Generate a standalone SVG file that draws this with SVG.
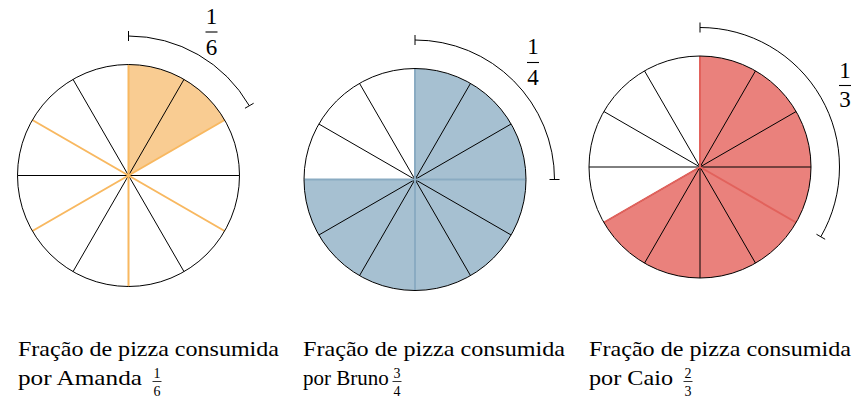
<svg xmlns="http://www.w3.org/2000/svg" width="860" height="407" viewBox="0 0 860 407">
<style>
  .bg{fill:#ffffff}
  .rim{fill:none;stroke:#000;stroke-width:1}
  .div{stroke:#000;stroke-width:1;fill:none}
  .fo{fill:#f9cc92;stroke:none}
  .fb{fill:#a6c0d1;stroke:none}
  .fr{fill:#ea817c;stroke:none}
  .lo{stroke:#f8b860;stroke-width:2;fill:none}
  .lb{stroke:#8aabc2;stroke-width:2;fill:none}
  .lr{stroke:#e2625c;stroke-width:2;fill:none}
  .arc{fill:none;stroke:#000;stroke-width:1}
  .bar{stroke:#000;stroke-width:1.1}
  .sbar{stroke:#000;stroke-width:0.8}
  text{font-family:'Liberation Serif','Times New Roman',serif;fill:#000}
  .t{font-size:21px}
  .big{font-size:23px;text-anchor:middle}
  .small{font-size:14px;text-anchor:middle}
</style>
<rect class="bg" x="0" y="0" width="860" height="407"/>

<!-- Pizza Amanda -->
<g id="pizza-amanda">
  <path class="fo" d="M128.5,175.5 L128.5,64.5 A111,111 0 0,1 224.63,120 Z"/>
  <path class="div" d="M17.5,175.5 L239.5,175.5 M184,79.37 L73,271.63 M73,79.37 L184,271.63"/>
  <path class="lo" d="M128.5,64.5 L128.5,286.5 M224.63,120 L32.37,231 M32.37,120 L224.63,231"/>
  <circle class="rim" cx="128.5" cy="175.5" r="111"/>
</g>

<!-- Pizza Bruno -->
<g id="pizza-bruno">
  <path class="fb" d="M415,179.5 L415,68.5 A111,111 0 1,1 304,179.5 Z"/>
  <path class="div" d="M511.13,124 L318.87,235 M318.87,124 L511.13,235 M470.5,83.37 L359.5,275.63 M359.5,83.37 L470.5,275.63"/>
  <path class="lb" d="M415,68.5 L415,290.5 M304,179.5 L526,179.5"/>
  <circle class="rim" cx="415" cy="179.5" r="111"/>
</g>

<!-- Pizza Caio -->
<g id="pizza-caio">
  <path class="fr" d="M700,167 L700,56 A111,111 0 1,1 603.87,222.5 Z"/>
  <path class="div" d="M589,167 L811,167 M700,167 L700,278 M796.13,111.5 L603.87,222.5 M603.87,111.5 L700,167 M755.5,70.87 L644.5,263.13 M644.5,70.87 L755.5,263.13"/>
  <path class="lr" d="M700,56 L700,167 L603.87,222.5 M700,167 L796.13,222.5"/>
  <circle class="rim" cx="700" cy="167" r="111"/>
</g>

<!-- Dimension arcs -->
<g id="connectors">
  <path class="arc" d="M128.5,36 A139.5,139.5 0 0,1 249.31,105.75"/>
  <path class="arc" d="M128.5,31 L128.5,41 M244.98,108.25 L253.64,103.25"/>
  <path class="arc" d="M415,40 A139.5,139.5 0 0,1 554.5,179.5"/>
  <path class="arc" d="M415,35 L415,45 M549.5,179.5 L559.5,179.5"/>
  <path class="arc" d="M700,27.5 A139.5,139.5 0 0,1 820.81,236.75"/>
  <path class="arc" d="M700,22.5 L700,32.5 M816.48,234.25 L825.14,239.25"/>
</g>

<!-- Arc labels -->
<g id="label-sixth">
  <text class="big" x="211.5" y="24">1</text>
  <line class="bar" x1="205.5" y1="32" x2="217.5" y2="32"/>
  <text class="big" x="211.5" y="55">6</text>
</g>
<g id="label-quarter">
  <text class="big" x="533" y="54">1</text>
  <line class="bar" x1="527" y1="62.5" x2="539" y2="62.5"/>
  <text class="big" x="533" y="85">4</text>
</g>
<g id="label-third">
  <text class="big" x="845" y="77.5">1</text>
  <line class="bar" x1="839" y1="85.5" x2="851" y2="85.5"/>
  <text class="big" x="845" y="106.5">3</text>
</g>

<!-- Captions -->
<g id="caption-amanda">
  <text class="t" x="18" y="356" textLength="261" lengthAdjust="spacingAndGlyphs">Fração de pizza consumida</text>
  <text class="t" x="18" y="385" textLength="124" lengthAdjust="spacingAndGlyphs">por Amanda</text>
  <text class="small" x="157" y="377.5">1</text>
  <line class="sbar" x1="152.5" y1="381.5" x2="161.5" y2="381.5"/>
  <text class="small" x="157" y="396">6</text>
</g>
<g id="caption-bruno">
  <text class="t" x="303" y="356" textLength="262" lengthAdjust="spacingAndGlyphs">Fração de pizza consumida</text>
  <text class="t" x="303" y="385">por Bruno</text>
  <text class="small" x="397" y="377.5">3</text>
  <line class="sbar" x1="392.5" y1="381.5" x2="401.5" y2="381.5"/>
  <text class="small" x="397" y="396">4</text>
</g>
<g id="caption-caio">
  <text class="t" x="589" y="356" textLength="262" lengthAdjust="spacingAndGlyphs">Fração de pizza consumida</text>
  <text class="t" x="589" y="385" textLength="84" lengthAdjust="spacingAndGlyphs">por Caio</text>
  <text class="small" x="688" y="377.5">2</text>
  <line class="sbar" x1="683.5" y1="381.5" x2="692.5" y2="381.5"/>
  <text class="small" x="688" y="396">3</text>
</g>
</svg>
